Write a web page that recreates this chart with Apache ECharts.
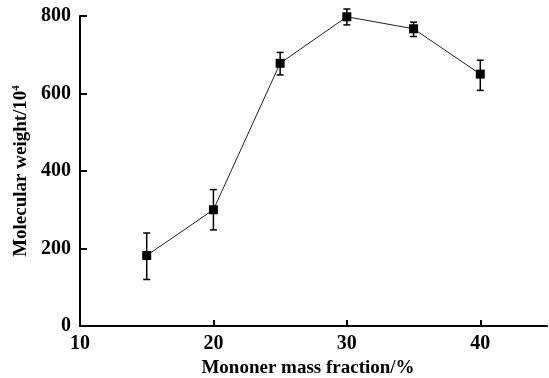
<!DOCTYPE html>
<html>
<head>
<meta charset="utf-8">
<script src="https://cdn.jsdelivr.net/npm/echarts@6/dist/echarts.min.js"></script>
<style>
  html, body { margin: 0; padding: 0; background: #fff; }
  #chart { width: 549px; height: 378px; }
</style>
</head>
<body>
<div id="chart"></div>
<script>
// Monomer mass fraction (%) vs. molecular weight (×10^4) with error bars
const fractions = [15, 20, 25, 30, 35, 40];
const molWeight = [182, 300, 678, 798, 767, 650];
const errUpper  = [58, 52, 28, 20, 17, 36];
const errLower  = [62, 52, 30, 21, 20, 42];
const xTicks = [10, 20, 30, 40];
const yTicks = [0, 200, 400, 600, 800];

const serif = '"Liberation Serif", "DejaVu Serif", serif';

const points = fractions.map((x, i) => [x, molWeight[i]]);
const bars = fractions.map((x, i) => [x, molWeight[i] - errLower[i], molWeight[i] + errUpper[i]]);

const chart = echarts.init(document.getElementById('chart'));
chart.setOption({
  backgroundColor: '#fff',
  animation: false,
  grid: { left: 80, right: 2, top: 16, bottom: 52, containLabel: false, outerBoundsMode: 'none' },
  xAxis: {
    type: 'value',
    min: xTicks[0],
    max: 45,
    interval: 10,
    name: 'Mononer mass fraction/%',
    nameLocation: 'middle',
    nameGap: 33,
    nameTextStyle: { fontFamily: serif, fontWeight: 'bold', fontSize: 19, color: '#000', padding: [0, 11, 0, 0] },
    splitLine: { show: false },
    axisLine: { lineStyle: { color: '#000', width: 2 } },
    axisTick: { inside: true, length: 6, lineStyle: { color: '#000', width: 2 } },
    axisLabel: { showMaxLabel: false, fontFamily: serif, fontWeight: 'bold', fontSize: 20, color: '#000', margin: 8 }
  },
  yAxis: {
    type: 'value',
    min: yTicks[0],
    max: yTicks[yTicks.length - 1],
    interval: 200,
    name: '{b|Molecular weight/10}{s|4}',
    nameLocation: 'middle',
    nameGap: 46,
    nameRotate: 90,
    nameTextStyle: {
      rich: {
        b: { fontFamily: serif, fontWeight: 'bold', fontSize: 19, color: '#000' },
        s: { fontFamily: serif, fontWeight: 'bold', fontSize: 11, color: '#000', verticalAlign: 'top', padding: [0, 0, 7, 0] }
      }
    },
    splitLine: { show: false },
    axisLine: { show: true, lineStyle: { color: '#000', width: 2 } },
    axisTick: { show: true, inside: true, length: 7, lineStyle: { color: '#000', width: 2 } },
    axisLabel: { fontFamily: serif, fontWeight: 'bold', fontSize: 20, color: '#000', margin: 9 }
  },
  series: [
    {
      type: 'custom',
      data: bars,
      z: 3,
      renderItem: function (params, api) {
        const x = api.value(0);
        const lo = api.coord([x, api.value(1)]);
        const hi = api.coord([x, api.value(2)]);
        const w = 3.5;
        const style = { stroke: '#000', lineWidth: 1.5 };
        return {
          type: 'group',
          children: [
            { type: 'line', shape: { x1: lo[0], y1: lo[1], x2: hi[0], y2: hi[1] }, style: style },
            { type: 'line', shape: { x1: lo[0] - w, y1: lo[1], x2: lo[0] + w, y2: lo[1] }, style: style },
            { type: 'line', shape: { x1: hi[0] - w, y1: hi[1], x2: hi[0] + w, y2: hi[1] }, style: style }
          ]
        };
      }
    },
    {
      type: 'line',
      data: points,
      z: 4,
      symbol: 'rect',
      symbolSize: 9,
      itemStyle: { color: '#000' },
      lineStyle: { color: '#222', width: 1 }
    }
  ]
});
</script>
</body>
</html>
